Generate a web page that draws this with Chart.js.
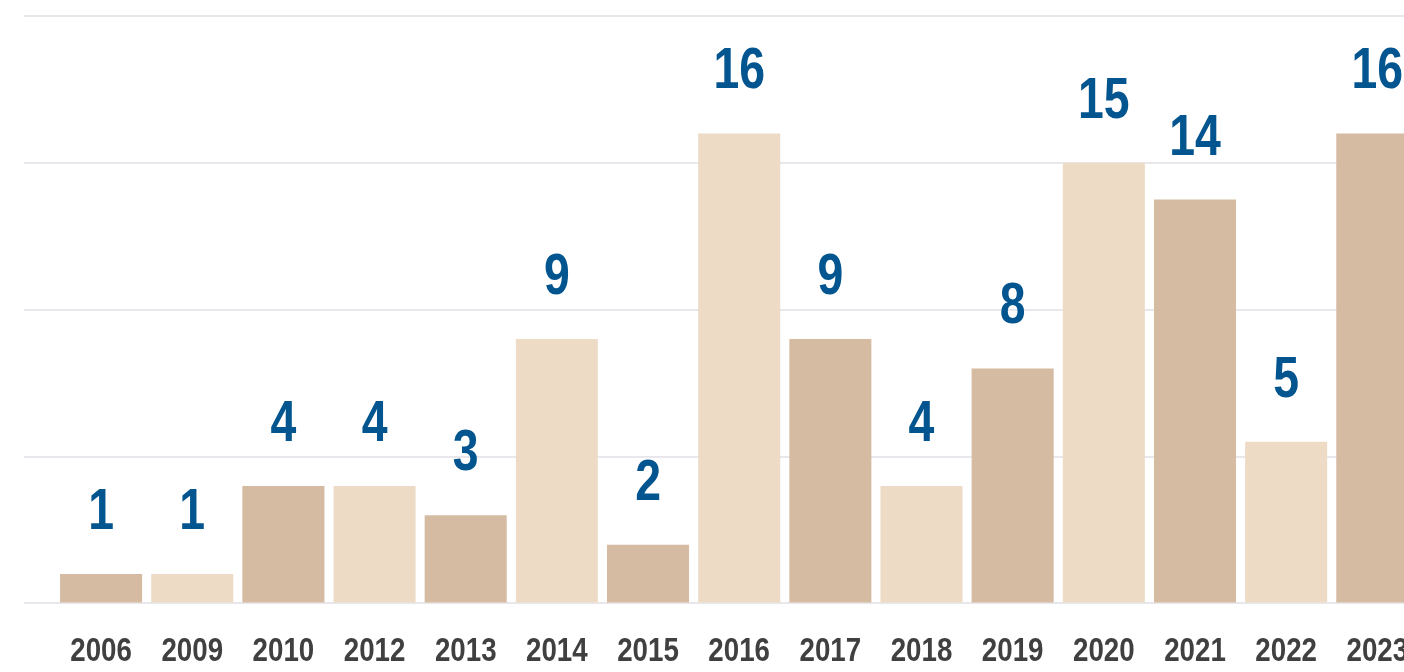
<!DOCTYPE html>
<html>
<head>
<meta charset="utf-8">
<script src="https://cdn.jsdelivr.net/npm/chart.js@4/dist/chart.umd.min.js"></script>
<style>
  html, body { margin: 0; padding: 0; background: #ffffff; overflow: hidden; width: 1404px; height: 672px; }
  #wrap { width: 1443px; height: 701px; }
</style>
</head>
<body>
<div id="wrap"><canvas id="c" width="1443" height="701"></canvas></div>
<script>
const categories = ["2006","2009","2010","2012","2013","2014","2015","2016","2017","2018","2019","2020","2021","2022","2023"];
const values = [1, 1, 4, 4, 3, 9, 2, 16, 9, 4, 8, 15, 13.75, 5.5, 16];
const valueLabels = ["1","1","4","4","3","9","2","16","9","4","8","15","14","5","16"];
const yTicks = [0, 5, 10, 15, 20];

const DARK = "#d5bba2";
const LIGHT = "#eddbc5";
const BLUE = "#03558f";
const FONT = "'Liberation Sans', Arial, sans-serif";
const X_SQUEEZE = 0.84;
const LABEL_SQUEEZE = 0.8;

const barColors = categories.map((_, i) => (i % 2 === 0 ? DARK : LIGHT));

// Condense the x-axis tick text horizontally (text stays real text drawn by the axis)
const condensePlugin = {
  id: "condenseTicks",
  afterLayout(chart) {
    const scale = chart.scales.x;
    if (scale._condensed) return;
    scale._condensed = true;
    const orig = scale.drawLabels;
    scale.drawLabels = function (area) {
      const ctx = this.ctx;
      const origFill = ctx.fillText;
      ctx.fillText = function (t, x, y, mw) {
        this.save();
        this.scale(X_SQUEEZE, 1);
        origFill.call(this, t, x / X_SQUEEZE, y);
        this.restore();
      };
      orig.call(this, area);
      ctx.fillText = origFill;
    };
  }
};

const labelPlugin = {
  id: "valueLabels",
  afterDatasetsDraw(chart) {
    const ctx = chart.ctx;
    const meta = chart.getDatasetMeta(0);
    ctx.save();
    ctx.fillStyle = BLUE;
    ctx.font = "bold 58px " + FONT;
    ctx.textAlign = "center";
    ctx.textBaseline = "alphabetic";
    meta.data.forEach((bar, i) => {
      ctx.save();
      ctx.translate(bar.x, bar.y - 45);
      ctx.scale(LABEL_SQUEEZE, 1);
      ctx.fillText(valueLabels[i], 0, 0);
      ctx.restore();
    });
    ctx.restore();
  }
};

new Chart(document.getElementById("c"), {
  type: "bar",
  data: {
    labels: categories,
    datasets: [{
      data: values,
      backgroundColor: barColors,
      borderWidth: 0,
      barPercentage: 0.9,
      categoryPercentage: 1.0
    }]
  },
  options: {
    responsive: false,
    animation: false,
    devicePixelRatio: 1,
    layout: { autoPadding: false, padding: { left: 24, top: 16, right: 0, bottom: 0 } },
    plugins: { legend: { display: false }, tooltip: { enabled: false } },
    scales: {
      x: {
        grid: { display: false, drawTicks: false },
        border: { display: false },
        ticks: {
          color: "#404040",
          padding: 29,
          maxRotation: 0,
          autoSkip: false,
          font: { family: FONT, size: 33, weight: "bold" }
        }
      },
      y: {
        min: 0,
        max: 20,
        afterBuildTicks(axis) { axis.ticks = yTicks.map(v => ({ value: v })); },
        grid: { color: "#e8e8ec", lineWidth: 2, drawTicks: true, tickLength: 31.5 },
        border: { display: false },
        ticks: { display: false }
      }
    }
  },
  plugins: [condensePlugin, labelPlugin]
});
</script>
</body>
</html>
